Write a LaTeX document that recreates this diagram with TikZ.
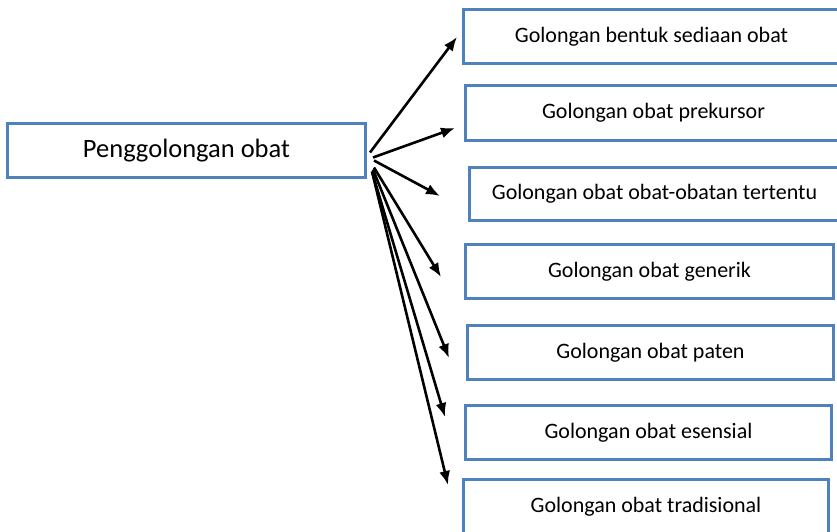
\documentclass[tikz,border=0pt]{standalone}
\usepackage{fontspec}
\setmainfont{Carlito}
\usepackage{xcolor}
\usetikzlibrary{arrows.meta,calc}
\definecolor{boxblue}{HTML}{4F81BD}

\begin{document}
\begin{tikzpicture}[x=1pt,y=-1pt,>={Latex[length=14pt,width=11pt]},
  box/.style={draw=boxblue,line width=3pt,fill=white,inner sep=0pt,
              minimum height=54pt,font=\fontsize{22}{26}\selectfont},
  lnk/.style={->,line width=2.6pt,black}]
\useasboundingbox (0,0) rectangle (837,532);
% main class
\node[box,minimum width=358pt,font=\fontsize{26.5}{31}\selectfont]
  (root) at (186.5,150.5) {Penggolongan obat};
% the seven groups
\node[box,minimum width=376pt] (g1) at (651.5,36.5)  {Golongan bentuk sediaan obat};
\node[box,minimum width=376pt,minimum height=55pt]
                               (g2) at (653.5,113)   {Golongan obat prekursor};
\node[box,minimum width=370pt,minimum height=53pt]
                               (g3) at (654.5,194)   {Golongan obat obat-obatan tertentu};
\node[box,minimum width=368pt] (g4) at (649.5,271.5) {Golongan obat generik};
\node[box,minimum width=366pt] (g5) at (650.5,352.5) {Golongan obat paten};
\node[box,minimum width=366pt] (g6) at (648.5,432.5) {Golongan obat esensial};
\node[box,minimum width=365pt] (g7) at (646,506.5)   {Golongan obat tradisional};
% arrows, tips stop short of the boxes
\foreach \i/\dx/\dy/\tx/\ty in {1/3/2/457/37, 2/6/7/455/128, 3/7/10/440/196,
                                4/7/17/441/277, 5/6/19/449/358, 6/5/21/445/417,
                                7/5/21/448/485}
  {\coordinate (tip\i) at (\tx,\ty);
   \draw[lnk] ($(root.east)+(\dx,\dy)$) -- (tip\i);}
\end{tikzpicture}
\end{document}
